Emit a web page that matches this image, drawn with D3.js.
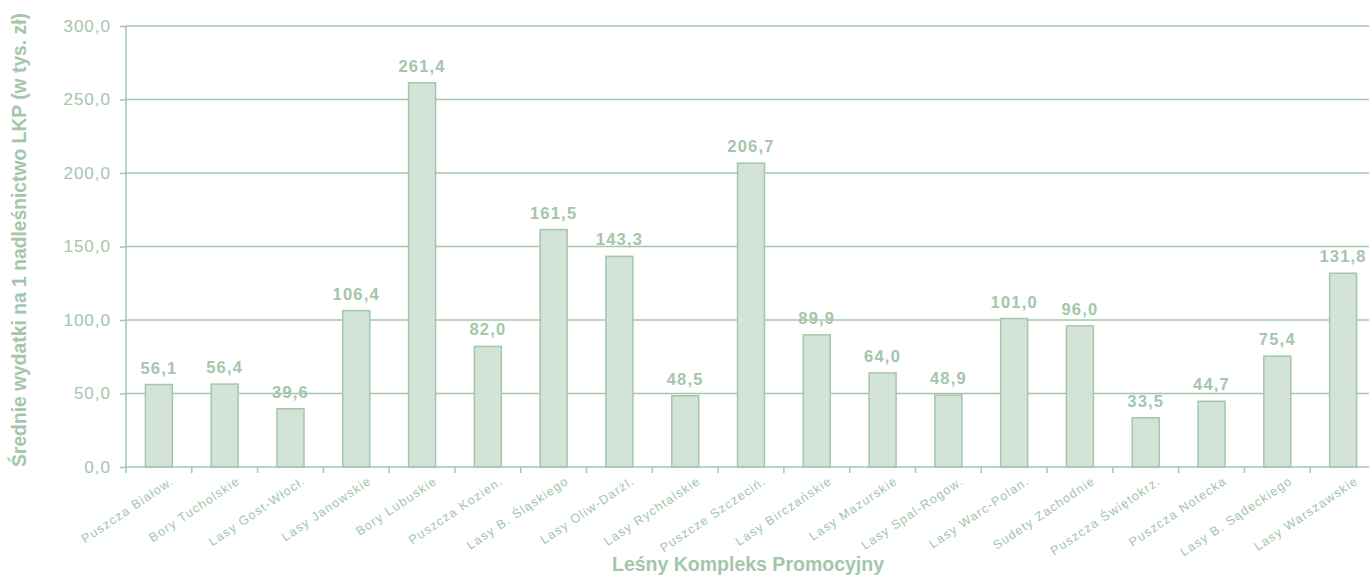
<!DOCTYPE html>
<html><head><meta charset="utf-8">
<script src="https://cdn.jsdelivr.net/npm/d3@7"></script>
<style>body{margin:0;background:#fff;overflow:hidden}svg{display:block;font-family:Arial,"Liberation Sans",sans-serif}</style>
</head><body>
<svg id="c" width="1369" height="576"></svg>
<script>
const categories = ["Puszcza Białow.", "Bory Tucholskie", "Lasy Gost-Włocł.", "Lasy Janowskie", "Bory Lubuskie", "Puszcza Kozien.", "Lasy B. Śląskiego", "Lasy Oliw-Darżl.", "Lasy Rychtalskie", "Puszcze Szczeciń.", "Lasy Birczańskie", "Lasy Mazurskie", "Lasy Spal-Rogow.", "Lasy Warc-Polan.", "Sudety Zachodnie", "Puszcza Świętokrz.", "Puszcza Notecka", "Lasy B. Sądeckiego", "Lasy Warszawskie"];
const values = [56.1, 56.4, 39.6, 106.4, 261.4, 82.0, 161.5, 143.3, 48.5, 206.7, 89.9, 64.0, 48.9, 101.0, 96.0, 33.5, 44.7, 75.4, 131.8];
const yTicks = [0, 50, 100, 150, 200, 250, 300];
const yTitle = "Średnie wydatki na 1 nadleśnictwo LKP (w tys. zł)";
const xTitle = "Leśny Kompleks Promocyjny";

(function () {
const C = {text:"#a3c6ac", line:"#a3c6ac", fill:"#d4e3d7"};
const svg = d3.select("#c");
const pl = 126, pr = 1376, pt = 26, pb = 467;
const x = d3.scaleBand().domain(categories).range([pl, pr]).paddingInner(0).paddingOuter(0);
const y = d3.scaleLinear().domain([0, 300]).range([pb, pt]);
const fmt = v => d3.format(".1f")(v).replace(".", ",");

svg.append("g").selectAll("line").data(yTicks.filter(d => d > 0)).join("line")
  .attr("x1", pl).attr("x2", 1369).attr("y1", d => y(d)).attr("y2", d => y(d))
  .attr("stroke", C.line).attr("stroke-width", 1.5);

const bw = x.bandwidth() * 0.41;
svg.append("g").selectAll("rect").data(values).join("rect")
  .attr("x", (d, i) => x(categories[i]) + x.bandwidth() / 2 - bw / 2)
  .attr("y", d => y(d)).attr("width", bw).attr("height", d => pb - y(d))
  .attr("fill", C.fill).attr("stroke", C.line).attr("stroke-width", 1.5);

svg.append("g").selectAll("text").data(values).join("text")
  .attr("x", (d, i) => x(categories[i]) + x.bandwidth() / 2)
  .attr("y", d => y(d) - 11)
  .attr("text-anchor", "middle").attr("fill", C.text)
  .attr("font-size", 16.5).attr("font-weight", "bold").attr("letter-spacing", 1.2)
  .text(fmt);

const ya = svg.append("g").attr("transform", `translate(${pl},0)`)
  .call(d3.axisLeft(y).tickValues(yTicks).tickFormat(fmt).tickSize(6).tickPadding(9));
ya.select(".domain").attr("stroke", C.line).attr("stroke-width", 1.5).attr("d", `M0,${pb}V${pt}`);
ya.selectAll(".tick line").attr("stroke", C.line).attr("stroke-width", 1.5);
ya.selectAll(".tick text").attr("fill", C.text).attr("font-size", 17).attr("letter-spacing", 1)
  .attr("font-family", "Arial, 'Liberation Sans', sans-serif");

const xa = svg.append("g").attr("transform", `translate(0,${pb})`)
  .call(d3.axisBottom(x).tickSize(0).tickFormat(""));
xa.select(".domain").attr("stroke", C.line).attr("stroke-width", 1.5).attr("d", `M${pl},0H1369`);
xa.selectAll(".tick").remove();
svg.append("g").selectAll("line").data(d3.range(categories.length + 1)).join("line")
  .attr("x1", i => pl + i * x.step()).attr("x2", i => pl + i * x.step())
  .attr("y1", pb).attr("y2", pb + 6).attr("stroke", C.line).attr("stroke-width", 1.5);

svg.append("g").selectAll("text").data(categories).join("text")
  .attr("transform", d => `translate(${x(d) + x.bandwidth() / 2 + 16},${pb + 16}) rotate(-34)`)
  .attr("text-anchor", "end").attr("fill", C.text).attr("font-size", 12.5).attr("letter-spacing", 1.2)
  .text(d => d);

svg.append("text").attr("transform", `translate(26,240) rotate(-90)`)
  .attr("text-anchor", "middle").attr("fill", C.text).attr("font-size", 19.3).attr("font-weight", "bold")
  .text(yTitle);
svg.append("text").attr("x", 748).attr("y", 571).attr("text-anchor", "middle")
  .attr("fill", C.text).attr("font-size", 19.5).attr("font-weight", "bold").text(xTitle);
})();
</script>
</body></html>
